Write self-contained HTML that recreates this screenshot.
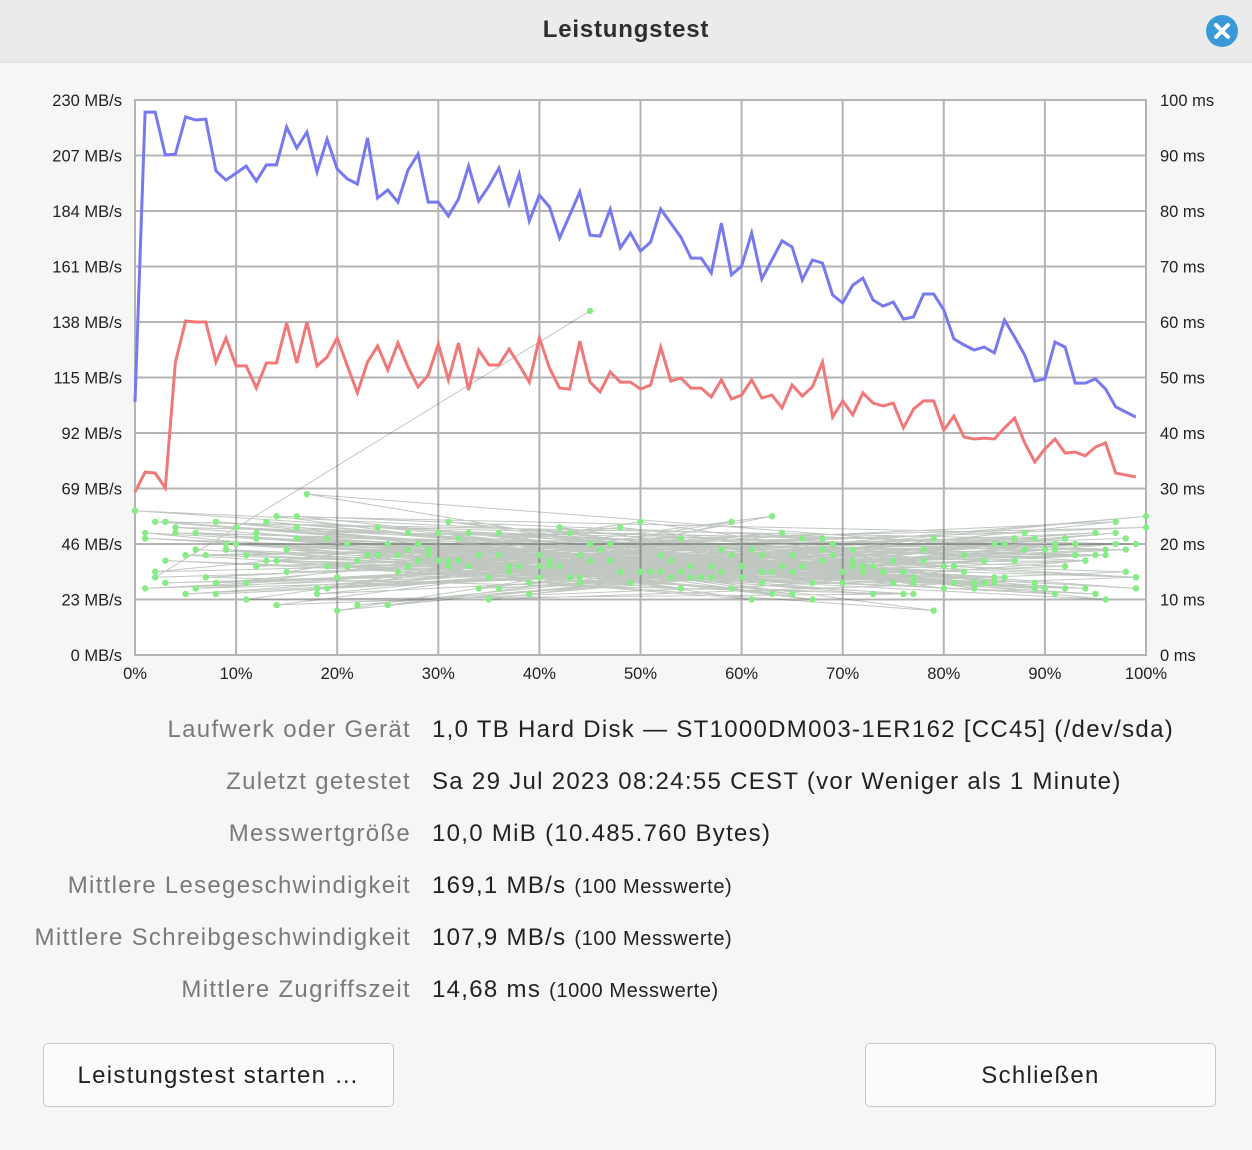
<!DOCTYPE html>
<html><head><meta charset="utf-8">
<style>
html,body{margin:0;padding:0;}
body{width:1252px;height:1150px;background:#f6f6f6;position:relative;overflow:hidden;font-family:"Liberation Sans","DejaVu Sans",sans-serif;}
#header{position:absolute;left:0;top:0;width:1252px;height:62px;background:#ebebeb;border-bottom:1px solid #e0e0e0;}
#title{position:absolute;left:0;width:1252px;top:16px;text-align:center;font-size:24px;letter-spacing:0.8px;font-weight:bold;color:#2e2e2e;}
#close{position:absolute;left:1206px;top:15px;width:32px;height:32px;border-radius:50%;background:#3a9ad9;}
#chart{position:absolute;left:0;top:62px;}
.row{position:absolute;left:0;width:1252px;height:34px;font-size:24px;letter-spacing:1.3px;}
.lab{position:absolute;right:841px;color:#7a7a7a;white-space:nowrap;}
.val{position:absolute;left:432px;color:#222;white-space:nowrap;}
.val small{font-size:20px;letter-spacing:0.6px;}
.btn{position:absolute;top:1043px;height:64px;width:351px;border:1px solid #c8c8c8;border-radius:5px;background:#fbfbfb;font-size:24px;letter-spacing:1.3px;color:#222;text-align:center;line-height:64px;box-sizing:border-box;}
</style></head><body>
<div id="header">
  <div id="title">Leistungstest</div>
  <div id="close">
    <svg width="32" height="32"><path d="M10 10 L22 22 M22 10 L10 22" stroke="#fff" stroke-width="4" stroke-linecap="round"/></svg>
  </div>
</div>
<svg id="chart" width="1252" height="630"></svg>

<div class="row" style="top:716px"><span class="lab">Laufwerk oder Gerät</span><span class="val">1,0 TB Hard Disk — ST1000DM003-1ER162 [CC45] (/dev/sda)</span></div>
<div class="row" style="top:768px"><span class="lab">Zuletzt getestet</span><span class="val">Sa 29 Jul 2023 08:24:55 CEST (vor Weniger als 1 Minute)</span></div>
<div class="row" style="top:820px"><span class="lab">Messwertgröße</span><span class="val">10,0 MiB (10.485.760 Bytes)</span></div>
<div class="row" style="top:872px"><span class="lab">Mittlere Lesegeschwindigkeit</span><span class="val">169,1 MB/s <small>(100 Messwerte)</small></span></div>
<div class="row" style="top:924px"><span class="lab">Mittlere Schreibgeschwindigkeit</span><span class="val">107,9 MB/s <small>(100 Messwerte)</small></span></div>
<div class="row" style="top:976px"><span class="lab">Mittlere Zugriffszeit</span><span class="val">14,68 ms <small>(1000 Messwerte)</small></span></div>

<div class="btn" style="left:43px">Leistungstest starten …</div>
<div class="btn" style="left:865px">Schließen</div>

<script>
const leftTicks = ["0 MB/s","23 MB/s","46 MB/s","69 MB/s","92 MB/s","115 MB/s","138 MB/s","161 MB/s","184 MB/s","207 MB/s","230 MB/s"];
const rightTicks = ["0 ms","10 ms","20 ms","30 ms","40 ms","50 ms","60 ms","70 ms","80 ms","90 ms","100 ms"];
const xTicks = ["0%","10%","20%","30%","40%","50%","60%","70%","80%","90%","100%"];
const readMBs = [104.8,225.0,225.0,207.2,207.6,223.0,221.7,222.1,200.6,196.8,199.7,202.6,196.4,203.1,203.1,218.8,210.1,216.7,200.2,213.8,201.4,197.3,195.2,214.3,189.4,192.7,187.7,201.0,207.6,187.7,187.7,181.9,189.0,202.6,188.1,194.4,201.8,186.9,199.3,179.9,190.6,185.7,172.8,182.3,191.9,174.0,173.6,184.8,168.7,174.9,167.4,171.1,184.8,179.0,173.2,164.5,164.5,158.3,179.0,157.5,161.2,174.9,155.8,163.7,171.6,169.1,155.4,163.7,162.4,149.2,145.9,153.3,156.2,147.1,144.6,146.3,139.2,140.1,149.6,149.6,143.0,131.0,128.5,126.4,127.6,125.2,138.8,131.8,124.3,113.5,114.4,129.7,127.6,112.7,112.7,114.4,110.2,102.8,100.7,98.6];
const writeMBs = [67.5,75.8,75.4,69.2,121.4,138.4,138.0,138.0,121.4,131.4,119.8,119.8,110.6,121.0,121.0,137.6,121.0,138.0,119.8,123.5,131.4,119.8,108.6,121.4,128.1,118.1,129.3,119.3,111.1,116.0,128.9,114.0,129.3,109.8,126.4,120.2,120.2,126.8,120.2,113.1,131.4,118.9,110.6,110.2,130.1,113.1,109.0,117.3,113.1,113.1,110.2,111.9,127.6,113.5,114.8,110.6,110.6,106.9,114.0,106.1,107.7,114.0,106.5,107.7,102.4,111.9,107.3,111.1,121.4,98.6,105.3,99.5,108.6,104.4,103.2,104.4,94.1,101.9,105.3,105.3,93.2,99.0,90.3,89.5,89.9,89.5,94.1,98.2,87.9,80.0,85.4,89.5,83.7,84.1,82.5,86.2,87.9,75.4,74.6,73.8];
const accessPct = [45,2,88,17,60,5,95,30,70,12,82,40,99,8,55,25,91,35,65,1,78,48,97,20,58,10,85,38,73,3,62,28,93,15,50,80,6,68,33,96,22,53,87,11,75,42,100,18,63,4,90,36,71,9,57,27,84,44,98,14,66,31,77,7,52,24,94,39,69,0,81,46,89,19,61,13,74,34,97,23,56,86,16,64,29,92,41,79,26,59,83,43,99,21,67,32,76,11,54,37,95,3,72,47,88,14,60,28,91,6,51,79,18,68,35,96,9,57,42,85,24,63,1,74,49,93,12,58,31,80,45,99,16,67,38,87,5,54,27,76,10,92,44,62,20,71,36,98,8,50,83,29,65,2,89,40,77,15,59,94,33,71,4,86,47,19,92,58,26,81,13,66,39,97,7,54,30,84,43,61,90,21,75,48,2,69,35,99,16,57,78,11,63,37,94,25,52,6,87,44,70,32,96,18,59,41,83,9,65,28,100,14,55,46,73,1,89,36,62,22,85,50,12,77,34,95,27,68,3,53,40,91,19,64,8,82,45,72,31,98];
const accessMs = [62,14,19,29,16,11,22,17,13,21,15,18,12,24,16,9,20,14,18,12,17,15,22,8,19,23,14,16,11,17,13,20,18,15,24,16,12,19,22,10,17,14,21,18,13,16,25,11,15,23,19,12,16,20,14,22,13,18,15,9,21,16,11,14,18,23,17,13,20,26,16,19,13,21,10,17,15,12,24,18,14,20,25,16,19,12,17,8,15,18,12,22,20,16,13,17,11,10,21,15,18,13,16,20,22,25,14,17,11,19,15,21,12,17,14,19,20,16,23,13,18,11,22,15,13,20,16,19,24,12,17,14,23,10,16,21,18,12,19,15,20,16,13,18,14,17,22,19,11,15,13,18,15,24,21,16,14,19,12,17,16,19,22,14,17,12,21,15,18,13,24,16,11,20,18,15,22,17,14,19,12,20,17,23,15,18,10,14,21,16,19,13,25,16,12,20,15,22,17,14,15,21,18,12,24,16,13,19,11,20,23,17,14,19,16,21,12,18,15,9,20,15,22,13,18,11,16,21,24,17,14,19,16,22,13,18,20,15,17,21];

const NS = "http://www.w3.org/2000/svg";
const svg = document.getElementById('chart');
const OY = 62;
const X0 = 135, X1 = 1146, YT = 100 - OY, YB = 655 - OY;
const xPct = p => X0 + (X1 - X0) * p / 100;
const yMB = v => YB - (YB - YT) * v / 230;
const yMs = v => YB - (YB - YT) * v / 100;
function mk(tag, attrs){ const e = document.createElementNS(NS, tag); for (const k in attrs) e.setAttribute(k, attrs[k]); svg.appendChild(e); return e; }

const bg = mk('rect', {x:X0, y:YT, width:X1-X0, height:YB-YT, fill:'#fff', stroke:'#b4b4b4', 'stroke-width':2});


for (let i = 0; i < leftTicks.length; i++) {
  const y = YB - (YB - YT) * i / (leftTicks.length - 1);
  const g = mk('line', {x1:X0, x2:X1, y1:y, y2:y, stroke:'#b4b4b4', 'stroke-width':2});
  
  
  const t = mk('text', {x:122, y:y+6, 'text-anchor':'end', 'font-size':16.5, fill:'#222', 'font-family':'Liberation Sans, sans-serif'});
  t.textContent = leftTicks[i];
  
  
  const r = mk('text', {x:1160, y:y+6, 'text-anchor':'start', 'font-size':16.5, fill:'#222', 'font-family':'Liberation Sans, sans-serif'});
  r.textContent = rightTicks[i];
  
  
}
for (let i = 0; i < xTicks.length; i++) {
  const x = X0 + (X1 - X0) * i / (xTicks.length - 1);
  const g = mk('line', {x1:x, x2:x, y1:YT, y2:YB, stroke:'#b4b4b4', 'stroke-width':2});
  
  
  const t = mk('text', {x:x, y:YB+24, 'text-anchor':'middle', 'font-size':16.5, fill:'#222', 'font-family':'Liberation Sans, sans-serif'});
  t.textContent = xTicks[i];
  
  
}
let d = '';
for (let i = 0; i < accessPct.length; i++) d += (i ? 'L' : 'M') + xPct(accessPct[i]).toFixed(1) + ' ' + yMs(accessMs[i]).toFixed(1);
const al = mk('path', {d:d, fill:'none', stroke:'rgba(50,70,50,0.3)', 'stroke-width':1});


for (let i = 0; i < accessPct.length; i++) {
  const c = mk('circle', {cx:xPct(accessPct[i]), cy:yMs(accessMs[i]), r:3.2, fill:'#86ec86'});
  
  
}
function series(vals, color, name){
  let p = '';
  for (let i = 0; i < vals.length; i++) p += (i ? 'L' : 'M') + xPct(i).toFixed(1) + ' ' + yMB(vals[i]).toFixed(1);
  const e = mk('path', {d:p, fill:'none', stroke:color, 'stroke-width':3, 'stroke-linejoin':'miter'});
  
  
}
series(writeMBs, '#f07878', 'write-rate-line');
series(readMBs, '#7878f0', 'read-rate-line');
</script>
</body></html>
